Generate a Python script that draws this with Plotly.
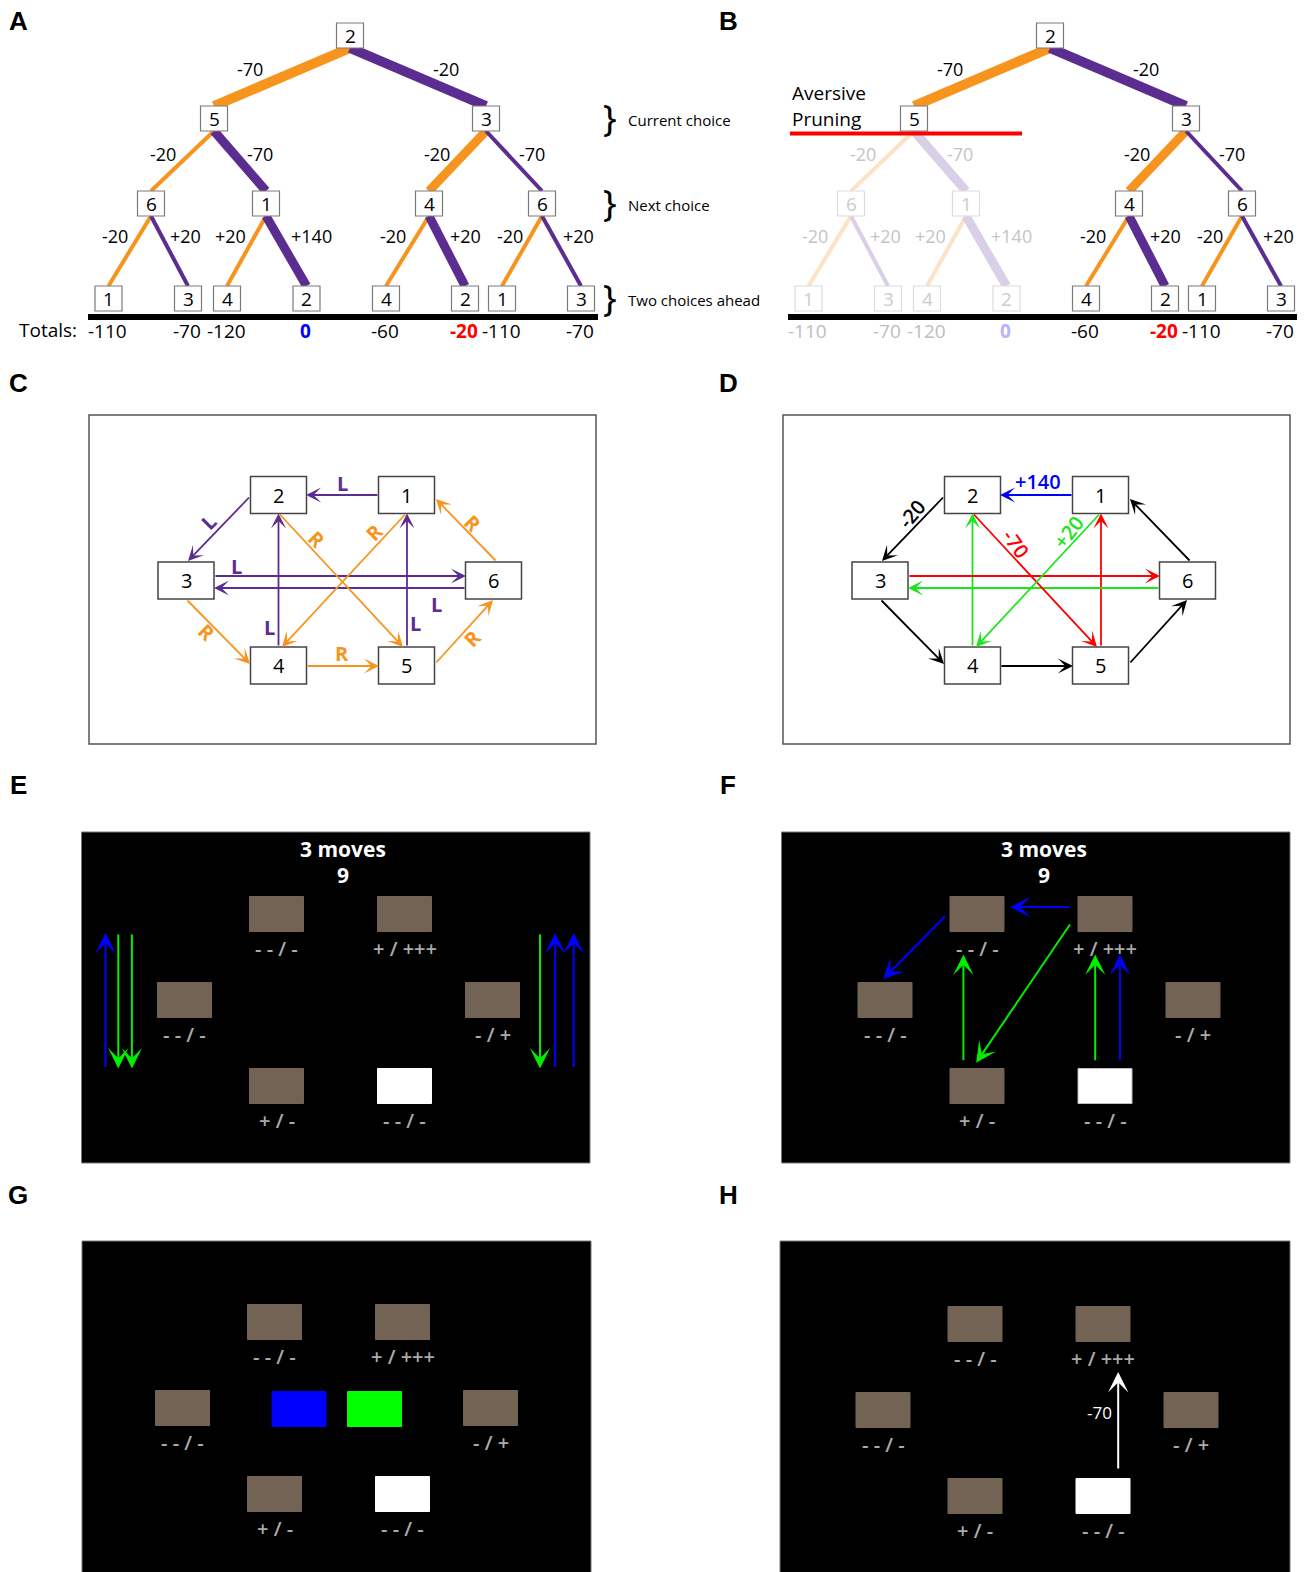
import plotly.graph_objects as go

# ------------------------------------------------------------------ DATA
# decision tree (breadth-first order), panels A and B
tree_states = [2, 5, 3, 6, 1, 4, 6, 1, 3, 4, 2, 4, 2, 1, 3]
tree_parent = [None, 0, 0, 1, 1, 2, 2, 3, 3, 4, 4, 5, 5, 6, 6]
edge_rewards = [None, -70, -20, -20, -70, -20, -70, -20, 20, 20, 140, -20, 20, -20, 20]
leaf_totals = [-110, -70, -120, 0, -60, -20, -110, -70]
level_names = ["Current choice", "Next choice", "Two choices ahead"]
pruned_subtree_root = 1          # state 5 branch pruned in panel B

# transition graph, panels C and D
trans_from = [1, 2, 4, 5, 3, 6, 2, 1, 3, 4, 5, 6]
trans_to = [2, 3, 2, 1, 6, 3, 5, 4, 4, 5, 6, 1]
trans_action = ["L", "L", "L", "L", "L", "L", "R", "R", "R", "R", "R", "R"]
trans_reward = [140, -20, 20, -70, -70, 20, -70, 20, -20, -20, -20, -20]
trans_reward_shown = [True, True, False, False, False, False, True, True, False, False, False, False]

# task screens, panels E-H (slots = states 2,1,3,6,4,5)
screen_states = [2, 1, 3, 6, 4, 5]
screen_labels = ["- - / -", "+ / +++", "- - / -", "- / +", "+ / -", "- - / -"]
current_state = 5
moves_left = "3 moves"
trial_number = "9"
h_reward = -70

# ------------------------------------------------------------------ LAYOUT / STYLE
FONT = "Open Sans, Noto Sans, sans-serif"
LETTER_FONT = "Liberation Sans, Arial, sans-serif"
ORANGE, PURPLE = "#f7941d", "#5c2d91"
ORANGE_F, PURPLE_F = "#fde2c6", "#d9cfe6"
RED, GREEN, BLUE = "#ff0000", "#1be51b", "#0000ff"
BROWN = "#726355"
GRAYTXT = "#ababab"

node_x = [350, 214, 486, 151, 266, 429, 542, 108.5, 188, 227, 306.5, 386, 465, 502, 581]
level_y = [35.5, 118.5, 203.5, 298.5]
node_level = [0, 1, 1, 2, 2, 2, 2, 3, 3, 3, 3, 3, 3, 3, 3]
edge_width = [None, 10, 10, 4, 9, 9, 4, 4, 4, 4, 9, 4, 9, 4, 4]
edge_label_xy = [None, (250, 69), (446, 69), (163, 154), (260, 154), (437, 154), (532, 154),
                 (115, 236), (185, 236), (230, 236), (311, 236), (393, 236), (465, 236),
                 (510, 236), (578, 236)]
total_color = {3: BLUE, 5: RED}

graph_pos = {1: (406.5, 495), 2: (278.5, 495), 3: (186, 580.5), 4: (278.5, 665.5),
             5: (406.5, 665.5), 6: (493.5, 580.5)}
trans_geom = [((379, 495), (306, 495)), ((250.5, 496), (188, 561)), ((278.5, 647), (278.5, 513.5)),
              ((407, 647), (407, 513.5)), ((214, 576), (466, 576)), ((466, 588), (214, 588)),
              ((278.5, 513), (403, 647)), ((406.5, 513), (282, 647)), ((186, 599), (250, 664)),
              ((306, 666), (379, 666)), ((435, 664), (493, 600)), ((497, 562), (436, 499))]
c_label_xy = [(342, 483, 0), (208, 522, -45), (269, 627, 0), (415, 623, 0), (236, 566, 0),
              (436, 604, 0), (317, 539, 45), (374, 532, -45), (207, 632, 45), (342, 653, 0),
              (472, 638, -45), (473, 523, 45)]
d_label_xy = [(1038, 481, 0), (911, 514, -50), None, None, None, None, (1016, 543, 55),
              (1068, 532, -52), None, None, None, None]
D_DX = 694

slot_xy = [(195, 82), (323, 82), (103, 168), (411, 168), (195, 254), (323, 254)]

shapes, ann = [], []


def text(x, y, s, size=18, color="black", family=FONT, xanchor="center", angle=0,
         yanchor="middle", weight="normal"):
    ann.append(dict(x=x, y=y, xref="x", yref="y", text=s, showarrow=False,
                    font=dict(size=size, color=color, family=family, weight=weight),
                    xanchor=xanchor, yanchor=yanchor, textangle=angle))


def rect(x0, y0, x1, y1, fill, lc, lw):
    shapes.append(dict(type="rect", xref="x", yref="y", x0=x0, y0=y0, x1=x1, y1=y1,
                       fillcolor=fill, line=dict(color=lc, width=lw), layer="above"))


def seg(x0, y0, x1, y1, color, width):
    shapes.append(dict(type="line", xref="x", yref="y", x0=x0, y0=y0, x1=x1, y1=y1,
                       line=dict(color=color, width=width), layer="above"))


def arrow(p0, p1, color, width=1.8, size=1.4):
    ann.append(dict(x=p1[0], y=p1[1], ax=p0[0], ay=p0[1], xref="x", yref="y", axref="x", ayref="y",
                    text="", showarrow=True, arrowhead=3, arrowsize=size, arrowwidth=width,
                    arrowcolor=color, standoff=0, startstandoff=0))


# ------------------------------------------------------------------ panels A & B
def descendants(root):
    out = set()
    for i in range(len(tree_states)):
        j = tree_parent[i]
        while j is not None:
            if j == root:
                out.add(i)
                break
            j = tree_parent[j]
    return out


def draw_tree(dx, prune=None):
    pruned = descendants(prune) if prune is not None else set()
    hw, hh = 13.5, 12.5
    for i in range(1, len(tree_states)):
        p = tree_parent[i]
        left = (i % 2 == 1)
        f = i in pruned
        col = (ORANGE_F if f else ORANGE) if left else (PURPLE_F if f else PURPLE)
        seg(node_x[p] + dx, level_y[node_level[p]] + hh, node_x[i] + dx, level_y[node_level[i]] - hh,
            col, edge_width[i])
    for i, s in enumerate(tree_states):
        f = i in pruned
        x, y = node_x[i] + dx, level_y[node_level[i]]
        rect(x - hw, y - hh, x + hw, y + hh, "white", "#dcdcdc" if f else "#7a7a7a", 1.2)
        text(x, y, str(s), 19, "#cccccc" if f else "black")
    for i in range(1, len(tree_states)):
        f = i in pruned
        lx, ly = edge_label_xy[i]
        text(lx + dx, ly, f"{edge_rewards[i]:+d}" if edge_rewards[i] > 0 else str(edge_rewards[i]),
             18, "#c4c4c4" if f else "black")
    x0 = 88 + dx
    x1 = 598 + dx if dx == 0 else 1297
    seg(x0, 317, x1, 317, "black", 6)
    for k, t in enumerate(leaf_totals):
        i = 7 + k
        f = i in pruned
        col = total_color.get(k, "black")
        if f:
            col = "#b4b4ff" if col == BLUE else "#bdbdbd"
        s = f"<b>{t}</b>" if k in total_color else str(t)
        text(node_x[i] + dx - 1, 331, s, 19, col)


draw_tree(0)
draw_tree(700, prune=pruned_subtree_root)
text(79, 330, "Totals:", 19, xanchor="right")
for k, name in enumerate(level_names):
    y = level_y[k + 1]
    text(610, y - 1, "}", 36, "black", family="Noto Sans, sans-serif")
    text(626, y + 1, name, 15, xanchor="left")
text(790, 93, "Aversive", 19, xanchor="left")
text(790, 119, "Pruning", 19, xanchor="left")
seg(790, 133.5, 1022, 133.5, RED, 4)

# ------------------------------------------------------------------ panels C & D
reward_color = {140: BLUE, -20: "black", 20: GREEN, -70: RED}
for dx in (0, D_DX):
    rect(89 + dx, 415, 596 + dx, 744, "rgba(0,0,0,0)", "#555555", 1.5)
for k in range(len(trans_from)):
    p0, p1 = trans_geom[k]
    col_c = PURPLE if trans_action[k] == "L" else ORANGE
    arrow(p0, p1, col_c)
    lx, ly, la = c_label_xy[k]
    text(lx, ly, f"<b>{trans_action[k]}</b>", 20, col_c, angle=la)
    col_d = reward_color[trans_reward[k]]
    arrow((p0[0] + D_DX, p0[1]), (p1[0] + D_DX, p1[1]), col_d)
    if trans_reward_shown[k]:
        lx, ly, la = d_label_xy[k]
        r = trans_reward[k]
        text(lx, ly, f"{r:+d}" if r > 0 else str(r), 20, col_d, angle=la, weight=600)
for dx in (0, D_DX):
    for s, (x, y) in graph_pos.items():
        rect(x + dx - 28, y - 18.5, x + dx + 28, y + 18.5, "white", "#444444", 1.5)
        text(x + dx, y, str(s), 20)

# ------------------------------------------------------------------ panels E-H
screens = {"E": ((81.5, 832, 590, 1163), (81.5, 832)),
           "F": ((781.5, 832, 1290, 1163), (782, 832)),
           "G": ((82, 1241, 591, 1580), (79.5, 1240)),
           "H": ((780, 1241, 1290, 1580), (780, 1242))}
for key, (fr, org) in screens.items():
    rect(fr[0], fr[1], fr[2], fr[3], "black", "#777777", 1)
    ox, oy = org
    for s, (rx, ry), lab in zip(screen_states, slot_xy, screen_labels):
        fill = "white" if s == current_state else BROWN
        lc = "#bbbbbb" if (s == current_state and key == "F") else fill
        rect(ox + rx - 27, oy + ry - 17.5, ox + rx + 27, oy + ry + 17.5, fill, lc, 1)
        text(ox + rx, oy + ry + 34, lab, 20, GRAYTXT, weight=600)
    if key in ("E", "F"):
        text(ox + 261.5, oy + 16.5, f"<b>{moves_left}</b>", 21, "white")
        text(ox + 261.5, oy + 43, f"<b>{trial_number}</b>", 21, "white")

# E arrows
ox, oy = screens["E"][1]
for x, c, up in [(24, BLUE, True), (36.8, "#00ee00", False), (50.4, "#00ee00", False),
                 (458.5, "#00ee00", False), (473.6, BLUE, True), (492.2, BLUE, True)]:
    top, bot = (ox + x, oy + 101), (ox + x, oy + 236.5)
    if up:
        arrow(bot, top, c, 2, 1.7)
    else:
        arrow(top, bot, c, 2, 1.7)
# F arrows
ox, oy = screens["F"][1]
for (a, b, c) in [((289, 75), (228, 75), BLUE), ((164.5, 82.7), (101.3, 147), BLUE),
                  ((289, 91), (194.2, 230.7), "#00ee00"), ((181.4, 229.7), (181.4, 122.5), "#00ee00"),
                  ((313.2, 229.7), (313.2, 122.5), "#00ee00"), ((337.9, 229.7), (337.9, 122.5), BLUE)]:
    arrow((ox + a[0], oy + a[1]), (ox + b[0], oy + b[1]), c, 2, 1.7)
# G colored option boxes
ox, oy = screens["G"][1]
for rx, c in [(219.5, "#0000ff"), (295, "#00ff00")]:
    rect(ox + rx - 27, oy + 169 - 17.5, ox + rx + 27, oy + 169 + 17.5, c, c, 1)
# H feedback arrow
ox, oy = screens["H"][1]
arrow((ox + 338.2, oy + 228), (ox + 338.2, oy + 130), "white", 2, 1.7)
text(ox + 319.6, oy + 170.6, str(h_reward), 17, "white")

# panel letters
for L, x, y in [("A", 18, 21), ("B", 728, 21), ("C", 18, 383), ("D", 728, 383),
                ("E", 18, 785), ("F", 728, 785), ("G", 18, 1195), ("H", 728, 1195)]:
    text(x, y, f"<b>{L}</b>", 26, "black", family=LETTER_FONT)

fig = go.Figure(go.Scatter(x=[0, 1307], y=[0, 1572], mode="markers", marker=dict(opacity=0),
                           hoverinfo="skip", showlegend=False))
fig.update_layout(width=1307, height=1572, margin=dict(l=0, r=0, t=0, b=0),
                  paper_bgcolor="white", plot_bgcolor="white", shapes=shapes, annotations=ann,
                  xaxis=dict(range=[0, 1307], visible=False, fixedrange=True),
                  yaxis=dict(range=[1572, 0], visible=False, fixedrange=True))
fig.write_html("out.html", config={"displayModeBar": False},
               post_script="document.body.style.margin='0';document.body.style.overflow='hidden';")
